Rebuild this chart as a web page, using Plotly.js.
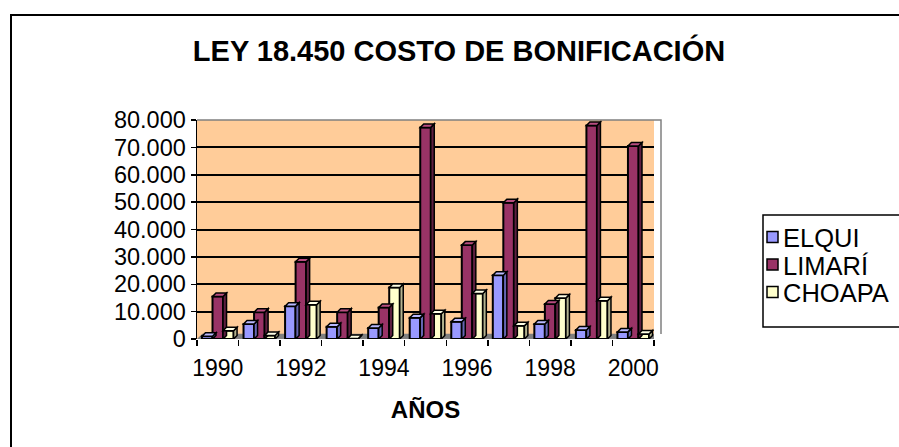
<!DOCTYPE html>
<html>
<head>
<meta charset="utf-8">
<script src="https://cdn.plot.ly/plotly-3.0.1.min.js"></script>
<style>html,body{margin:0;padding:0;background:#fff;}#chart{width:899px;height:447px;}</style>
</head>
<body>
<div id="chart"></div>
<script>
// ---- data ----
const years = [1990, 1991, 1992, 1993, 1994, 1995, 1996, 1997, 1998, 1999, 2000];
const elqui  = [1000, 5500, 12000, 4500, 4000, 7800, 6300, 23300, 5500, 3300, 2600];
const limari = [15500, 9800, 28200, 9800, 11500, 77300, 34300, 49800, 12800, 78000, 70500];
const choapa = [3000, 1300, 12500, 200, 18800, 9200, 16600, 4800, 15000, 14000, 1800];
const seriesNames = ['ELQUI', 'LIMARÍ', 'CHOAPA'];
const xTickYears = [1990, 1992, 1994, 1996, 1998, 2000];

// ---- style ----
const fills = ['#9999FF', '#993366', '#FFFFCC'];
const sides = ['#6666B3', '#5E1F40', '#B3B38F'];
const tops  = ['#B8B8FF', '#B84D80', '#FFFFE6'];
const FONT = 'Arial, "Liberation Sans", sans-serif';
const L = 197, R = 654, T = 120, B = 339, W = 899, H = 447;
const groupW = 0.76, barW = groupW / 3;
const pxX = (R - L) / 11, pxY = (B - T) / 80000;
const dX = 3.5 / pxX, dY = 3.5 / pxY;
const px2x = p => (p - L) / (R - L);
const px2y = p => (B - p) / (B - T);

const allSeries = [elqui, limari, choapa];
const traces = allSeries.map((vals, i) => ({
  type: 'bar', name: seriesNames[i], x: years, y: vals,
  width: barW, offset: -groupW / 2 + i * barW,
  marker: {color: fills[i], line: {color: '#000', width: 2}},
  hoverinfo: 'x+y+name', showlegend: false
}));

const shapes = [];
const annotations = [];
// floor
shapes.push({type: 'path', xref: 'x', yref: 'y', layer: 'below',
  path: `M ${years[0]-0.5},0 L ${years[years.length-1]+0.5},0 L ${years[years.length-1]+0.5+dX*1.5},${dY*1.5} L ${years[0]-0.5+dX*1.5},${dY*1.5} Z`,
  fillcolor: '#808080', line: {width: 0}});
// 3D faces computed from the data
allSeries.forEach((vals, i) => {
  vals.forEach((v, k) => {
    const x0 = years[k] - groupW / 2 + i * barW, x1 = x0 + barW;
    shapes.push({type: 'path', xref: 'x', yref: 'y', layer: 'above',
      path: `M ${x1},0 L ${x1},${v} L ${x1+dX},${v+dY} L ${x1+dX},${dY} Z`,
      fillcolor: sides[i], line: {color: '#000', width: 1.5}});
    shapes.push({type: 'path', xref: 'x', yref: 'y', layer: 'above',
      path: `M ${x0},${v} L ${x1},${v} L ${x1+dX},${v+dY} L ${x0+dX},${v+dY} Z`,
      fillcolor: tops[i], line: {color: '#000', width: 1.5}});
  });
});
// outer chart border
shapes.push({type: 'rect', xref: 'paper', yref: 'paper',
  x0: px2x(11), x1: px2x(W + 20), y0: px2y(H + 20), y1: px2y(15),
  line: {color: '#000', width: 2}, fillcolor: 'rgba(0,0,0,0)', layer: 'below'});
// wall outline (top/right)
shapes.push({type: 'path', xref: 'paper', yref: 'paper', layer: 'below',
  path: `M 0,1 L ${px2x(R + 7)},1 L ${px2x(R + 7)},${px2y(B - 5)}`,
  line: {color: '#808080', width: 1.5}});

// legend (box, swatches, labels)
shapes.push({type: 'rect', xref: 'paper', yref: 'paper',
  x0: px2x(763), x1: px2x(W + 20), y0: px2y(327), y1: px2y(215),
  line: {color: '#000', width: 1.5}, fillcolor: '#FFFFFF'});
seriesNames.forEach((name, i) => {
  const cy = 237 + i * 27.5;
  shapes.push({type: 'rect', xref: 'paper', yref: 'paper',
    x0: px2x(767), x1: px2x(778), y0: px2y(cy + 5.5), y1: px2y(cy - 5.5),
    line: {color: '#000', width: 1.5}, fillcolor: fills[i]});
  annotations.push({xref: 'paper', yref: 'paper', x: px2x(781), y: px2y(cy + 1),
    xanchor: 'left', yanchor: 'middle', showarrow: false, text: name,
    font: {family: FONT, size: 25.5, color: '#000'}});
});

const layout = {
  width: W, height: H,
  margin: {l: L, r: W - R, t: T, b: H - B, pad: 0},
  paper_bgcolor: '#FFFFFF', plot_bgcolor: '#FFCC99',
  separators: ',.',
  font: {family: FONT, size: 22, color: '#000'},
  title: {text: '<b>LEY 18.450 COSTO DE BONIFICACIÓN</b>', font: {family: FONT, size: 29, color: '#000'},
    xref: 'container', yref: 'container', x: 459 / W, xanchor: 'center', y: 1 - 51 / H, yanchor: 'middle'},
  barmode: 'overlay',
  showlegend: false,
  xaxis: {
    range: [years[0] - 0.5, years[years.length - 1] + 0.5],
    tickmode: 'array', tickvals: xTickYears, ticktext: xTickYears.map(String),
    ticks: 'outside', ticklen: 8, tickcolor: 'rgba(0,0,0,0)', showgrid: false, zeroline: false,
    showline: false,
    minor: {tick0: years[0] - 0.5, dtick: 1, ticks: 'outside', ticklen: 6, tickwidth: 1.5, tickcolor: '#000', showgrid: false},
    tickfont: {family: FONT, size: 23, color: '#000'},
    title: {text: '<b>AÑOS</b>', font: {family: FONT, size: 24, color: '#000'}, standoff: 21}
  },
  yaxis: {
    range: [0, 80000], tickmode: 'linear', tick0: 0, dtick: 10000,
    tickformat: ',d', ticks: 'outside', ticklen: 5, tickwidth: 1.5, tickcolor: '#000',
    showline: true, linecolor: '#000', linewidth: 1.5,
    showgrid: true, gridcolor: '#000', gridwidth: 2, zeroline: false,
    tickfont: {family: FONT, size: 23.5, color: '#000'}
  },
  shapes: shapes,
  annotations: annotations
};

Plotly.newPlot('chart', traces, layout, {displayModeBar: false, staticPlot: true});
</script>
</body>
</html>
